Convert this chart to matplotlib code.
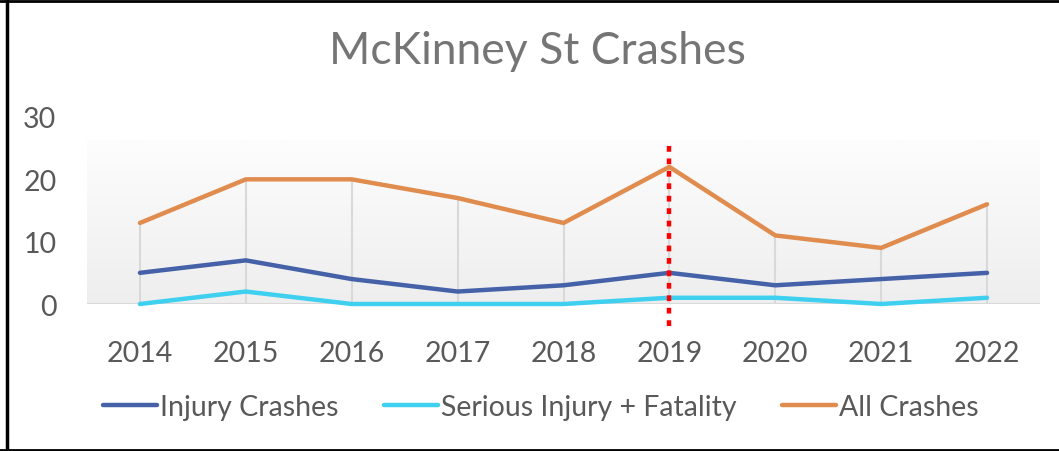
import numpy as np
import matplotlib.pyplot as plt
import matplotlib
from matplotlib.lines import Line2D

matplotlib.rcParams['font.family'] = ['Lato', 'DejaVu Sans']

years = ['2014', '2015', '2016', '2017', '2018', '2019', '2020', '2021', '2022']
injury = [5, 7, 4, 2, 3, 5, 3, 4, 5]
serious = [0, 2, 0, 0, 0, 1, 1, 0, 1]
all_crashes = [13, 20, 20, 17, 13, 22, 11, 9, 16]
marker_year = '2019'

c_injury = '#4561a8'
c_serious = '#3fd0f0'
c_all = '#e08c4e'
txt = '#595959'

W, H = 1059, 452
fig = plt.figure(figsize=(W / 100, H / 100), dpi=100)
ax = fig.add_axes([87 / W, 1 - 305 / H, (1040 - 87) / W, (305 - 118) / H])

x = np.arange(len(years))
ax.set_xlim(-0.5, len(years) - 0.5)
ax.set_ylim(0, 30)

# gradient plot area
grad = np.linspace(0, 1, 100).reshape(-1, 1)
ax.imshow(grad, extent=(-0.5, len(years) - 0.5, 0, 26.2), aspect='auto',
          cmap=matplotlib.colors.LinearSegmentedColormap.from_list('g', ['#eeeeee', '#fdfdfd']),
          origin='lower', zorder=0)

# drop lines
top = np.maximum(np.maximum(injury, serious), all_crashes)
ax.vlines(x, 0, top, color='#d9d9d9', lw=1.5, zorder=1)
ax.axhline(0, color='#d9d9d9', lw=1.5, zorder=1)

ax.plot(x, injury, color=c_injury, lw=3.2, solid_capstyle='round', zorder=3,
        label='Injury Crashes', clip_on=False)
ax.plot(x, serious, color=c_serious, lw=3.2, solid_capstyle='round', zorder=3,
        label='Serious Injury + Fatality', clip_on=False)
ax.plot(x, all_crashes, color=c_all, lw=3.2, solid_capstyle='round', zorder=3,
        label='All Crashes', clip_on=False)

xi = years.index(marker_year)
ax.add_line(Line2D([xi, xi], [-3.6, 25.8], color='red', lw=3.2, ls=(0, (1.3, 1.5)),
                   zorder=4, clip_on=False))

for s in ax.spines.values():
    s.set_visible(False)
ax.set_xticks(x)
ax.set_xticklabels(years)
ax.set_yticks([0, 10, 20, 30])
ax.tick_params(length=0, labelsize=20.5, colors=txt)
ax.tick_params(axis='x', pad=26)
ax.tick_params(axis='y', pad=22)

fig.text(537 / W, 1 - 52 / H, 'McKinney St Crashes', ha='center', va='center',
         fontsize=32, color='#757575')

leg = fig.legend(loc='center', bbox_to_anchor=(541 / W, 1 - 408 / H), ncol=3, frameon=False,
                 fontsize=20.5, labelcolor=txt, handlelength=1.9, handletextpad=0.1,
                 columnspacing=1.6)

# outer frame
fig.add_artist(Line2D([7 / W, 7 / W], [0, 1], color='black', lw=2.5))
fig.add_artist(Line2D([0, 1], [1 - 2 / H, 1 - 2 / H], color='black', lw=2))
fig.add_artist(Line2D([0, 1], [1 - 450.5 / H, 1 - 450.5 / H], color='black', lw=2))

plt.savefig('out.png', dpi=100)
